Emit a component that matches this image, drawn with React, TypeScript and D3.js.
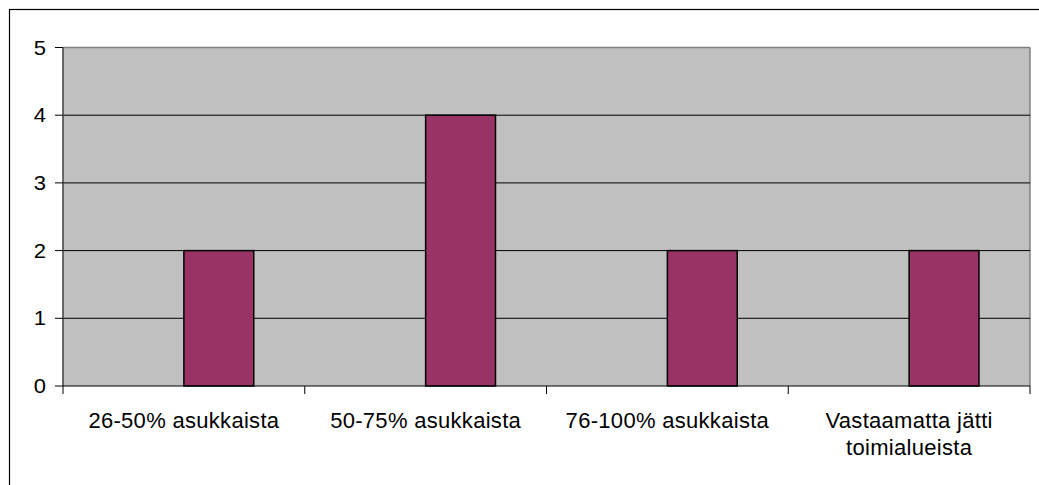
import React from "react";
import * as d3 from "d3";

// Survey answers per category
const categories: string[][] = [
  ["26-50% asukkaista"],
  ["50-75% asukkaista"],
  ["76-100% asukkaista"],
  ["Vastaamatta jätti", "toimialueista"],
];
const categoryKeys = ["26-50", "50-75", "76-100", "vastaamatta"];
const counts = [2, 4, 2, 2];
const yTicks = [0, 1, 2, 3, 4, 5];
// Clustered layout with an empty first series slot
const seriesSlots = ["empty", "count"];

const W = 1039;
const H = 485;
const plot = { left: 63, right: 1030, top: 47.5, bottom: 386 };

export default function App() {
  const x = d3
    .scaleBand<string>()
    .domain(categoryKeys)
    .range([plot.left, plot.right])
    .paddingInner(0)
    .paddingOuter(0);
  const sub = d3
    .scaleBand<string>()
    .domain(seriesSlots)
    .range([0, x.bandwidth()])
    .paddingInner(0)
    .paddingOuter(0.73);
  const y = d3.scaleLinear().domain([0, 5]).range([plot.bottom, plot.top]);

  const boundaries = categoryKeys.map((k) => x(k)!).concat([plot.right]);

  return (
    <div style={{ position: "absolute", left: 0, top: 0 }}>
      <svg width={W} height={H} style={{ display: "block", fontFamily: "Arial, 'Liberation Sans', sans-serif" }}>
        <rect x={0} y={0} width={W} height={H} fill="#ffffff" />
        {/* outer chart frame */}
        <rect x={9.5} y={9.5} width={W + 20} height={H + 20} fill="none" stroke="#000" strokeWidth={1.2} />
        {/* plot area */}
        <rect
          x={plot.left}
          y={plot.top}
          width={plot.right - plot.left}
          height={plot.bottom - plot.top}
          fill="#c0c0c0"
        />
        <line x1={plot.left} x2={plot.right} y1={plot.top} y2={plot.top} stroke="#808080" strokeWidth={1.5} />
        <line x1={plot.right} x2={plot.right} y1={plot.top} y2={plot.bottom} stroke="#808080" strokeWidth={1.5} />
        {/* gridlines */}
        {yTicks
          .filter((t) => t > 0 && t < 5)
          .map((t) => (
            <line key={t} x1={plot.left} x2={plot.right} y1={y(t)} y2={y(t)} stroke="#000" strokeWidth={1} />
          ))}
        {/* bars */}
        {counts.map((v, i) => {
          const bx = x(categoryKeys[i])! + sub("count")!;
          return (
            <rect
              key={categoryKeys[i]}
              x={bx}
              y={y(v)}
              width={sub.bandwidth()}
              height={y(0) - y(v)}
              fill="#993366"
              stroke="#000"
              strokeWidth={1.5}
            />
          );
        })}
        {/* y axis */}
        <line x1={plot.left} x2={plot.left} y1={plot.top} y2={plot.bottom} stroke="#404040" strokeWidth={1.5} />
        {yTicks.map((t) => (
          <g key={t}>
            <line x1={plot.left - 8} x2={plot.left} y1={y(t)} y2={y(t)} stroke="#000" strokeWidth={1} />
            <text x={46} y={y(t)} dy="0.36em" textAnchor="end" fontSize={20} fill="#000" transform={`translate(46,0) scale(1.1,1) translate(-46,0)`}>
              {t}
            </text>
          </g>
        ))}
        {/* x axis */}
        <line x1={plot.left} x2={plot.right} y1={plot.bottom} y2={plot.bottom} stroke="#000" strokeWidth={1} />
        {boundaries.map((bx, i) => (
          <line key={i} x1={bx} x2={bx} y1={plot.bottom} y2={plot.bottom + 8} stroke="#000" strokeWidth={1} />
        ))}
        {categories.map((lines, i) => {
          const cx = x(categoryKeys[i])! + x.bandwidth() / 2;
          return (
            <text key={categoryKeys[i]} x={cx} y={428} textAnchor="middle" fontSize={22} fill="#000" letterSpacing={0.3}>
              {lines.map((ln, j) => (
                <tspan key={j} x={cx} dy={j === 0 ? 0 : 27}>
                  {ln}
                </tspan>
              ))}
            </text>
          );
        })}
      </svg>
    </div>
  );
}
